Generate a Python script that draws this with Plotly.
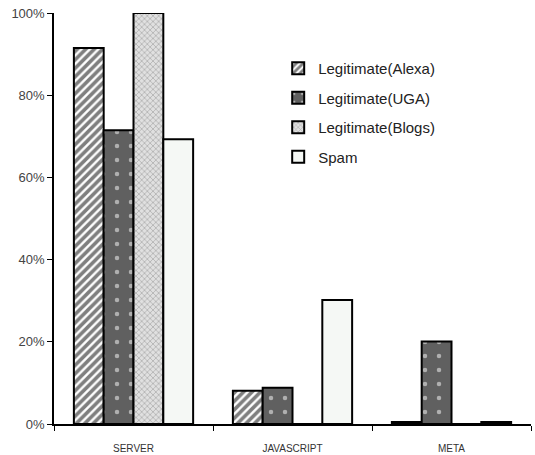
import plotly.graph_objects as go

# Share of pages by redirection type
categories = ["SERVER", "JAVASCRIPT", "META"]
alexa = [0.915, 0.081, 0.005]
uga = [0.715, 0.088, 0.201]
blogs = [1.0, 0.0, 0.0]
spam = [0.693, 0.302, 0.005]

series = [
    ("Legitimate(Alexa)", alexa, dict(shape="/", fgcolor="#000000", bgcolor="#ffffff", size=6, solidity=0.6)),
    ("Legitimate(UGA)", uga, dict(shape=".", fgcolor="#ffffff", bgcolor="#606060", size=14, solidity=0.08)),
    ("Legitimate(Blogs)", blogs, dict(shape="x", fgcolor="#8a8a8a", bgcolor="#e0e0e0", size=4, solidity=0.4)),
    ("Spam", spam, dict(shape="", bgcolor="#f5f8f5", fgcolor="#f5f8f5")),
]

fig = go.Figure()
for i, (name, vals, pat) in enumerate(series):
    fig.add_trace(go.Bar(
        name=name,
        x=categories,
        y=vals,
        legendgroup=f"g{i}",
        marker=dict(
            color=pat["bgcolor"],
            pattern=pat,
            line=dict(color="#000000", width=2),
        ),
        cliponaxis=False,
    ))

fig.update_layout(
    width=535,
    height=455,
    barmode="group",
    bargap=0.25,
    bargroupgap=0.0,
    plot_bgcolor="#ffffff",
    paper_bgcolor="#ffffff",
    margin=dict(l=54, r=4, t=13, b=31),
    font=dict(family="Liberation Sans, Arial, sans-serif", color="#333333"),
    legend=dict(
        x=0.47, y=0.905, xanchor="left", yanchor="top",
        font=dict(size=15, color="#222222"),
        bgcolor="rgba(0,0,0,0)",
        traceorder="grouped",
        tracegroupgap=7,
        itemwidth=30,
    ),
    showlegend=True,
)

fig.update_yaxes(
    range=[0, 1],
    tickvals=[0, 0.2, 0.4, 0.6, 0.8, 1.0],
    tickformat=".0%",
    showgrid=False,
    zeroline=False,
    showline=True,
    linecolor="#000000",
    linewidth=1.5,
    ticks="outside",
    ticklen=5,
    tickcolor="#000000",
    tickfont=dict(size=13, color="#444444"),
    automargin=False,
)
fig.update_xaxes(
    showgrid=False,
    showline=True,
    linecolor="#000000",
    linewidth=1.5,
    ticks="outside",
    tickson="boundaries",
    ticklen=5,
    tickcolor="#000000",
    ticklabelstandoff=14,
    tickfont=dict(size=10, color="#333333"),
    automargin=False,
)

fig.write_html("out.html")
